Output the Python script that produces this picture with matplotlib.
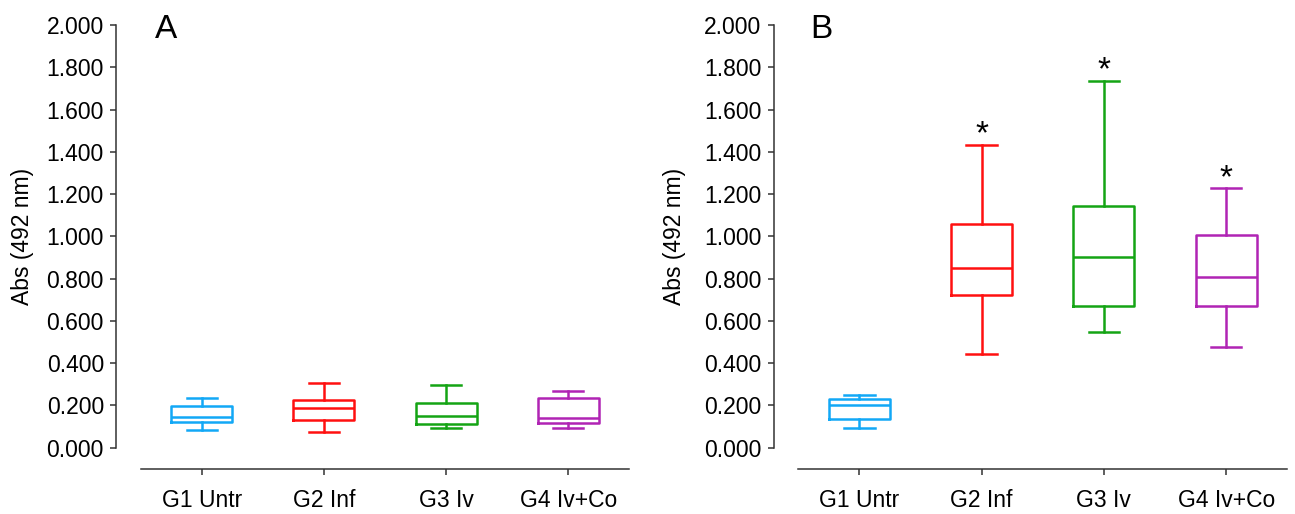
import matplotlib
matplotlib.use("Agg")
import matplotlib.pyplot as plt

plt.rcParams['font.family'] = ['Liberation Sans', 'DejaVu Sans']

groups = ["G1 Untr", "G2 Inf", "G3 Iv", "G4 Iv+Co"]
colors = ['#12A8F6', '#FF1010', '#14A414', '#B024B4']
yticks = [0.0, 0.2, 0.4, 0.6, 0.8, 1.0, 1.2, 1.4, 1.6, 1.8, 2.0]

# panel A: whisker low, Q1, median, Q3, whisker high
a_low = [0.086, 0.076, 0.092, 0.095]
a_q1 = [0.123, 0.131, 0.111, 0.118]
a_med = [0.144, 0.187, 0.150, 0.142]
a_q3 = [0.199, 0.226, 0.211, 0.234]
a_high = [0.235, 0.305, 0.297, 0.268]

# panel B
b_low = [0.093, 0.442, 0.546, 0.478]
b_q1 = [0.136, 0.721, 0.672, 0.672]
b_med = [0.200, 0.852, 0.902, 0.809]
b_q3 = [0.230, 1.057, 1.144, 1.005]
b_high = [0.249, 1.433, 1.737, 1.227]
b_signif = [False, True, True, True]

W, H = 1295, 514
fig = plt.figure(figsize=(W / 100, H / 100), dpi=100)


def make_stats(low, q1, med, q3, high):
    return [dict(whislo=lo, q1=a, med=m, q3=b, whishi=hi, fliers=[], label=g)
            for lo, a, m, b, hi, g in zip(low, q1, med, q3, high, groups)]


def draw_panel(left_px, right_px, stats, letter, letter_x, ylabel_x, signif=None):
    top_px, bottom_px = 25, 447.7
    ax = fig.add_axes([left_px / W, 1 - bottom_px / H,
                       (right_px - left_px) / W, (bottom_px - top_px) / H])
    bp = ax.bxp(stats, positions=range(4), widths=0.5, capwidths=0.25,
                showfliers=False, patch_artist=False)
    for i, c in enumerate(colors):
        for key in ['boxes', 'medians']:
            bp[key][i].set_color(c)
            bp[key][i].set_linewidth(1.8)
        for key in ['whiskers', 'caps']:
            for art in bp[key][2 * i:2 * i + 2]:
                art.set_color(c)
                art.set_linewidth(1.8)
    ax.set_xlim(-0.5, 3.5)
    ax.set_ylim(0, 2.0)
    ax.set_yticks(yticks)
    ax.set_yticklabels([f"{v:.3f}" for v in yticks])
    ax.set_xticks(range(4))
    ax.set_xticklabels(groups)
    for s in ['top', 'right']:
        ax.spines[s].set_visible(False)
    ax.spines['left'].set_position(('outward', 17.5))
    ax.spines['bottom'].set_position(('outward', 15))
    for s in ['left', 'bottom']:
        ax.spines[s].set_color('#333333')
        ax.spines[s].set_linewidth(1.1)
    ax.tick_params(axis='y', direction='out', length=4.5, width=1.1,
                   color='#333333', labelsize=16.5, pad=4.5)
    ax.tick_params(axis='x', direction='out', length=4.5, width=1.1,
                   color='#333333', labelsize=16.5, pad=10)
    ax.set_ylabel("Abs (492 nm)", fontsize=16.5)
    ax.yaxis.set_label_coords((ylabel_x - left_px) / (right_px - left_px), 0.5)
    fig.text(letter_x / W, 1 - 38 / H, letter, fontsize=24, ha='left', va='baseline')
    if signif is not None:
        for i, st in enumerate(stats):
            if signif[i]:
                ax.annotate("*", xy=(i, st['whishi']), xytext=(0, 1),
                            textcoords='offset points', ha='center',
                            va='baseline', fontsize=24)
    return ax


draw_panel(140.7, 629.3, make_stats(a_low, a_q1, a_med, a_q3, a_high), "A", 155, 34)
draw_panel(798.3, 1287.3, make_stats(b_low, b_q1, b_med, b_q3, b_high), "B", 810, 686,
           signif=b_signif)

fig.savefig("out.png", dpi=100)
